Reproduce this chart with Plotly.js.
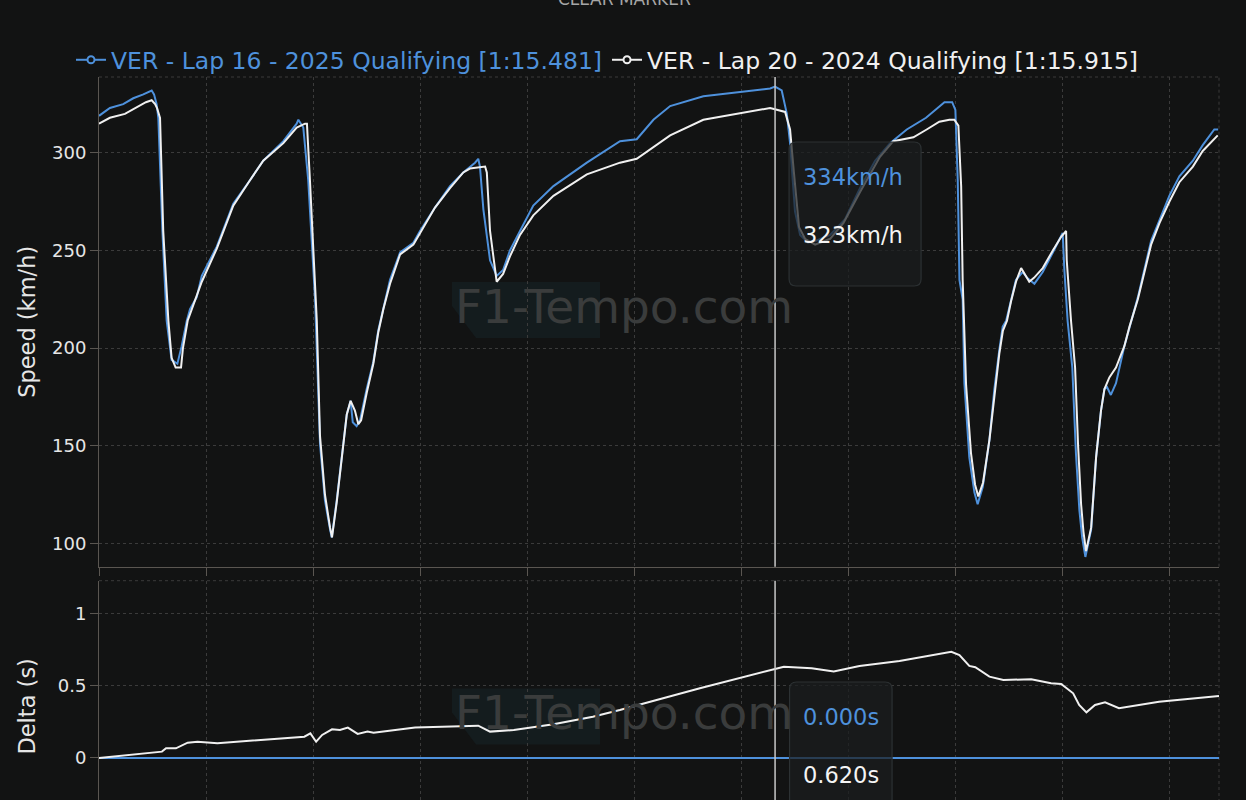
<!DOCTYPE html>
<html><head><meta charset="utf-8">
<script src="https://cdn.plot.ly/plotly-3.0.1.min.js"></script>
<style>html,body{margin:0;padding:0;background:#121313;overflow:hidden}</style>
</head><body><div id="chart" style="width:1246px;height:832px"></div>
<script>
// ---------- data (distance in m) ----------
const seriesNames = ["VER - Lap 16 - 2025 Qualifying [1:15.481]", "VER - Lap 20 - 2024 Qualifying [1:15.915]"];
const seriesColors = ["#4e91dc", "#f0f0f0"];

const distance2025 = [0,51,113,160,207,246,257,269,277,296,316,339,366,386,410,425,456,480,550,627,705,767,861,923,931,954,977,1001,1009,1032,1055,1079,1087,1110,1133,1157,1175,1185,1203,1219,1250,1281,1304,1328,1359,1406,1468,1499,1569,1639,1701,1756,1771,1779,1795,1826,1857,1887,1919,1966,2028,2122,2278,2433,2511,2589,2667,2822,2978,3134,3157,3188,3212,3227,3250,3274,3311,3348,3414,3484,3554,3624,3694,3772,3862,3948,3984,3999,4010,4018,4033,4041,4064,4088,4103,4127,4158,4181,4204,4220,4236,4259,4282,4313,4334,4368,4407,4454,4493,4500,4508,4523,4545,4562,4578,4591,4606,4633,4656,4679,4695,4707,4725,4749,4788,4812,4851,4913,4952,4998,5045,5108,5154,5208,5226];
const speed2025 = [319,323,325,328,330,332,330,325,318,260,214,194,192,201,214,220,226,237,252,274,286,296,306,315,317,313,286,235,225,151,122,107,103,122,144,166,173,162,160,163,179,193,209,221,235,249,254,260,272,283,290,295,297,293,271,245,237,240,250,260,273,283,295,306,307,317,324,329,331,333,334,332,320,305,270,258,254,255,258,266,282,296,305,312,318,326,326,322,286,235,225,182,144,126,120,129,153,179,199,211,214,225,235,239,236,233,239,249,257,259,240,214,190,146,117,103,93,107,144,168,179,180,176,182,201,211,226,255,266,278,288,296,304,312,312];

const distance2024 = [0,51,121,191,219,246,262,271,285,300,324,339,358,383,392,414,430,480,550,627,705,767,861,923,962,971,985,1017,1032,1055,1079,1088,1110,1133,1157,1175,1195,1211,1224,1250,1281,1304,1328,1359,1406,1468,1499,1569,1639,1701,1732,1803,1811,1826,1857,1887,1919,1966,2028,2122,2278,2433,2511,2589,2667,2822,2978,3134,3204,3227,3245,3269,3297,3344,3414,3476,3554,3647,3709,3803,3865,3924,3971,3994,4013,4026,4033,4049,4072,4091,4106,4128,4158,4181,4204,4221,4240,4259,4282,4306,4344,4366,4407,4454,4493,4516,4519,4539,4558,4572,4586,4597,4609,4633,4656,4679,4695,4718,4749,4788,4812,4851,4913,4952,4998,5045,5108,5154,5224];
const speed2024 = [315,318,320,324,326,327,325,323,318,260,214,195,190,190,200,214,219,234,251,273,286,296,305,313,315,315,286,214,155,125,108,103,121,144,166,173,168,161,163,177,192,208,220,233,248,253,259,272,282,290,292,293,290,260,234,238,247,258,268,278,289,295,297,303,309,317,320,323,321,312,290,262,256,253,256,264,280,298,306,308,312,316,317,317,314,283,235,181,146,130,124,131,153,176,197,209,214,224,234,241,234,236,241,250,257,260,245,214,190,150,120,106,96,108,144,168,179,185,190,201,211,225,253,264,275,285,293,301,309];

const deltaDistance = [0,294,313,359,414,460,553,738,959,987,1014,1042,1088,1125,1162,1208,1254,1282,1476,1771,1826,1937,2122,2306,2432,2806,3158,3198,3328,3431,3551,3738,3980,4018,4064,4092,4158,4223,4353,4446,4493,4521,4549,4577,4611,4651,4698,4763,4950,5230];
const delta2024 = [0,0.044,0.067,0.067,0.106,0.113,0.102,0.125,0.148,0.171,0.113,0.160,0.199,0.194,0.211,0.167,0.183,0.176,0.211,0.224,0.183,0.194,0.234,0.287,0.333,0.484,0.620,0.634,0.623,0.600,0.639,0.674,0.738,0.715,0.639,0.630,0.565,0.542,0.546,0.519,0.514,0.484,0.449,0.368,0.317,0.368,0.387,0.345,0.391,0.431];
const refDeltaDistance = [0, 5230];
const refDelta2025 = [0, 0];

const speedTicks = [100, 150, 200, 250, 300];
const deltaTicks = [0, 0.5, 1];
const deltaTickText = ["0", "0.5", "1"];
const xRange = [0, 5230];
const hoverDistance = 3157;

// ---------- layout geometry ----------
const W = 1246, H = 832, ML = 99, MR = 27, MT = 77, MB = 0;
const PW = W - ML - MR, PH = H - MT - MB;
const X = px => (px - ML) / PW;
const Y = py => 1 - (py - MT) / PH;
const speedBottom = 566.7, deltaTop = 580.7;
const bg = "#121313";
const gridColor = "#3b3b3b";
const axisColor = "#5a5651";
const FONT = "DejaVu Sans";

function nearest(xs, ys, x) {
  let bi = 0;
  for (let i = 1; i < xs.length; i++) if (Math.abs(xs[i] - x) < Math.abs(xs[bi] - x)) bi = i;
  return ys[bi];
}
function roundRect(l, t, r, b, rad) {
  return `M ${X(l+rad)},${Y(t)} L ${X(r-rad)},${Y(t)} Q ${X(r)},${Y(t)} ${X(r)},${Y(t+rad)} ` +
         `L ${X(r)},${Y(b-rad)} Q ${X(r)},${Y(b)} ${X(r-rad)},${Y(b)} L ${X(l+rad)},${Y(b)} ` +
         `Q ${X(l)},${Y(b)} ${X(l)},${Y(b-rad)} L ${X(l)},${Y(t+rad)} Q ${X(l)},${Y(t)} ${X(l+rad)},${Y(t)} Z`;
}
function poly(pts) {
  return "M " + pts.map(p => `${X(p[0])},${Y(p[1])}`).join(" L ") + " Z";
}

const hoverPx = ML + (hoverDistance - xRange[0]) / (xRange[1] - xRange[0]) * PW;
const v25 = nearest(distance2025, speed2025, hoverDistance);
const v24 = nearest(distance2024, speed2024, hoverDistance);
const d25 = nearest(refDeltaDistance, refDelta2025, hoverDistance);
const d24 = nearest(deltaDistance, delta2024, hoverDistance);

const traces = [
  {x: distance2025, y: speed2025, xaxis: "x", yaxis: "y", mode: "lines", line: {color: seriesColors[0], width: 2}, showlegend: false, hoverinfo: "skip"},
  {x: distance2024, y: speed2024, xaxis: "x", yaxis: "y", mode: "lines", line: {color: seriesColors[1], width: 2}, showlegend: false, hoverinfo: "skip"},
  {x: refDeltaDistance, y: refDelta2025, xaxis: "x2", yaxis: "y2", mode: "lines", line: {color: seriesColors[0], width: 2}, showlegend: false, hoverinfo: "skip"},
  {x: deltaDistance, y: delta2024, xaxis: "x2", yaxis: "y2", mode: "lines", line: {color: seriesColors[1], width: 2}, showlegend: false, hoverinfo: "skip"},
];
seriesNames.forEach((n, i) => traces.push({
  x: [null], y: [null], xaxis: "x", yaxis: "y", mode: "lines+markers",
  name: `<span style="color:${seriesColors[i]}">${n}</span>`,
  line: {color: seriesColors[i], width: 2},
  marker: {symbol: "circle", size: 7, color: bg, line: {color: seriesColors[i], width: 2}}
}));

const wmBox = (dy) => poly([[452, 282+dy], [600, 282+dy], [600, 338+dy], [476, 338+dy], [452, 306+dy]]);

const shapes = [
  {type: "path", xref: "paper", yref: "paper", path: wmBox(0), fillcolor: "#141c1e", line: {width: 0}, layer: "below"},
  {type: "path", xref: "paper", yref: "paper", path: wmBox(406.5), fillcolor: "#141c1e", line: {width: 0}, layer: "below"},
  {type: "line", xref: "x domain", yref: "y domain", x0: 0, x1: 1, y0: 1, y1: 1, line: {color: gridColor, width: 1, dash: "3px,3px"}, layer: "below"},
  {type: "line", xref: "x domain", yref: "y domain", x0: 1, x1: 1, y0: 0, y1: 1, line: {color: gridColor, width: 1, dash: "3px,3px"}, layer: "below"},
  {type: "line", xref: "x2 domain", yref: "y2 domain", x0: 0, x1: 1, y0: 1, y1: 1, line: {color: gridColor, width: 1, dash: "3px,3px"}, layer: "below"},
  {type: "line", xref: "x2 domain", yref: "y2 domain", x0: 1, x1: 1, y0: 0, y1: 1, line: {color: gridColor, width: 1, dash: "3px,3px"}, layer: "below"},
  {type: "line", xref: "x", yref: "y domain", x0: hoverDistance, x1: hoverDistance, y0: 0, y1: 1, line: {color: "#c8c8c8", width: 1.5}},
  {type: "line", xref: "x2", yref: "y2 domain", x0: hoverDistance, x1: hoverDistance, y0: 0, y1: 1, line: {color: "#c8c8c8", width: 1.5}},
  {type: "path", xref: "paper", yref: "paper", path: roundRect(hoverPx + 14, 142, hoverPx + 146, 286, 7), fillcolor: "rgba(26,29,31,0.72)", line: {color: "#2c3133", width: 1.2}},
  {type: "path", xref: "paper", yref: "paper", path: roundRect(hoverPx + 14.5, 682, hoverPx + 117, 826, 7), fillcolor: "rgba(26,29,31,0.72)", line: {color: "#2c3133", width: 1.2}},
];

const annotations = [
  {xref: "paper", yref: "paper", x: X(624.5), y: Y(-1), text: "CLEAR MARKER", showarrow: false, xanchor: "center", yanchor: "middle", font: {family: FONT, size: 17, color: "#a6a6a6"}},
  {xref: "paper", yref: "paper", x: X(623.5), y: Y(306), text: "F1-Tempo.com", showarrow: false, xanchor: "center", yanchor: "middle", font: {family: FONT, size: 47, color: "#3a3c3c"}},
  {xref: "paper", yref: "paper", x: X(623.5), y: Y(712.5), text: "F1-Tempo.com", showarrow: false, xanchor: "center", yanchor: "middle", font: {family: FONT, size: 47, color: "#3a3c3c"}},
  {xref: "paper", yref: "paper", x: X(hoverPx + 26), y: Y(177), text: `${Math.round(v25)}km/h`, showarrow: false, xanchor: "left", yanchor: "middle", font: {family: FONT, size: 22.5, color: seriesColors[0]}},
  {xref: "paper", yref: "paper", x: X(hoverPx + 26), y: Y(235), text: `${Math.round(v24)}km/h`, showarrow: false, xanchor: "left", yanchor: "middle", font: {family: FONT, size: 22.5, color: "#f4f4f4"}},
  {xref: "paper", yref: "paper", x: X(hoverPx + 26), y: Y(716.5), text: `${d25.toFixed(3)}s`, showarrow: false, xanchor: "left", yanchor: "middle", font: {family: FONT, size: 22.5, color: seriesColors[0]}},
  {xref: "paper", yref: "paper", x: X(hoverPx + 26), y: Y(775), text: `${d24.toFixed(3)}s`, showarrow: false, xanchor: "left", yanchor: "middle", font: {family: FONT, size: 22.5, color: "#f4f4f4"}},
];

const baseX = {range: xRange, tick0: 0, dtick: 500, showgrid: true, gridcolor: gridColor, griddash: "3px,3px", gridwidth: 1, zeroline: false, showticklabels: false, fixedrange: true};
const layout = {
  width: W, height: H,
  margin: {l: ML, r: MR, t: MT, b: MB, pad: 0},
  paper_bgcolor: bg, plot_bgcolor: "rgba(0,0,0,0)",
  font: {family: FONT, color: "#e6e6e6", size: 18},
  showlegend: true,
  legend: {orientation: "h", x: X(71), xanchor: "left", y: Y(60), yanchor: "middle", font: {family: FONT, size: 23.5, color: "#f0f0f0"}, bgcolor: "rgba(0,0,0,0)", itemwidth: 30, traceorder: "normal"},
  hovermode: false,
  xaxis: Object.assign({}, baseX, {anchor: "y", showline: true, linecolor: axisColor, linewidth: 1, ticks: "outside", ticklen: 8, tickcolor: axisColor, tickwidth: 1}),
  xaxis2: Object.assign({}, baseX, {anchor: "y2", matches: "x", showline: true, linecolor: axisColor, ticks: "outside", ticklen: 8, tickcolor: axisColor}),
  yaxis: {domain: [Y(speedBottom), 1], range: [88.0, 338.9], tickvals: speedTicks, showgrid: true, gridcolor: gridColor, griddash: "3px,3px", zeroline: false,
          showline: true, linecolor: axisColor, ticks: "outside", ticklen: 8, tickcolor: axisColor, tickfont: {family: FONT, size: 18, color: "#e6e6e6"},
          title: {text: "Speed (km/h)", font: {family: FONT, size: 22.5, color: "#e6e6e6"}, standoff: 10}, automargin: false, fixedrange: true},
  yaxis2: {domain: [0, Y(deltaTop)], range: [-0.514, 1.231], tickvals: deltaTicks, ticktext: deltaTickText, showgrid: true, gridcolor: gridColor, griddash: "3px,3px", zeroline: false,
          showline: true, linecolor: axisColor, ticks: "outside", ticklen: 8, tickcolor: axisColor, tickfont: {family: FONT, size: 18, color: "#e6e6e6"},
          title: {text: "Delta (s)", font: {family: FONT, size: 22.5, color: "#e6e6e6"}, standoff: 15}, automargin: false, fixedrange: true},
  shapes: shapes,
  annotations: annotations
};

Plotly.newPlot("chart", traces, layout, {displayModeBar: false, staticPlot: true});
</script>
</body></html>
